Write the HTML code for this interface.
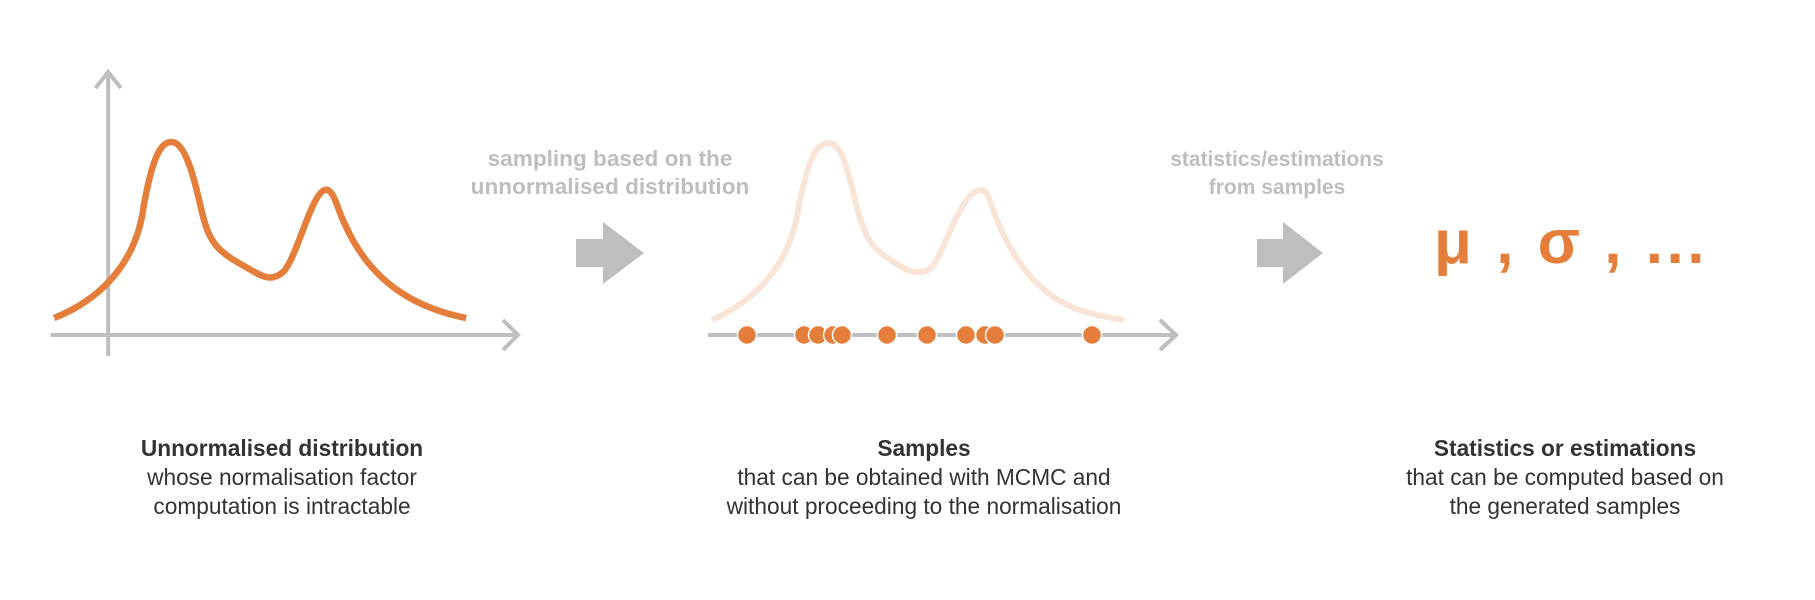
<!DOCTYPE html>
<html><head><meta charset="utf-8"><style>
html,body{margin:0;padding:0;background:#fff;}
svg{display:block;}
text{font-family:"Liberation Sans",sans-serif;}
</style></head><body>
<svg width="1815" height="600" viewBox="0 0 1815 600" xmlns="http://www.w3.org/2000/svg">
<!-- left graph -->
<g transform="matrix(1.151 0 0 1 0 0)">
<g stroke="#bcbec0" fill="none">
<line x1="94" y1="72" x2="94" y2="356" vector-effect="non-scaling-stroke" stroke-width="4"/>
<polyline points="83,88 94,72 105,88" vector-effect="non-scaling-stroke" stroke-width="4"/>
<line x1="44" y1="335" x2="450" y2="335" vector-effect="non-scaling-stroke" stroke-width="4"/>
<polyline points="437,320 450,335 437,350" vector-effect="non-scaling-stroke" stroke-width="4"/>
</g>
<path d="M47,318 C80,303 118,270 125,205 C133,155 140,142 149,142 C162,142 170,185 175,210 C182,245 190,252 215,268 C228,277 236,282 246,272 C258,258 270,195 282,190 C290,187 293,210 300,225 C325,290 370,310 405,318" fill="none" stroke="#e57e3a" stroke-width="6.5" vector-effect="non-scaling-stroke"/>
</g>
<!-- arrow 1 -->
<text x="610" y="166" text-anchor="middle" font-size="22.6" font-weight="bold" fill="#bcbec0">sampling based on the</text>
<text x="610" y="194" text-anchor="middle" font-size="22.6" font-weight="bold" fill="#bcbec0">unnormalised distribution</text>
<polygon points="576,239 603,239 603,222 644,253 603,284 603,267 576,267" fill="#bcbec0"/>
<!-- middle -->
<path d="M712,320 C750,303 790,270 799,205 C808,160 816,143 829,143 C842,143 849,175 855,200 C862,228 868,245 885,256 C905,270 915,276 928,270 C943,262 958,192 981,190 C988,190 991,205 995,215 C1030,305 1080,313 1124,320" fill="none" stroke="#f8e5d8" stroke-width="6"/>
<g stroke="#bcbec0" stroke-width="4" fill="none">
<line x1="708" y1="335" x2="1175" y2="335"/>
<polyline points="1160,320 1176,335 1160,350"/>
</g>
<g fill="#e57e3a" stroke="#fff" stroke-width="1.5">
<circle cx="747" cy="335" r="9.5"/>
<circle cx="804" cy="335" r="9.5"/>
<circle cx="818" cy="335" r="9.5"/>
<circle cx="833" cy="335" r="9.5"/>
<circle cx="842" cy="335" r="9.5"/>
<circle cx="887" cy="335" r="9.5"/>
<circle cx="927" cy="335" r="9.5"/>
<circle cx="966" cy="335" r="9.5"/>
<circle cx="985" cy="335" r="9.5"/>
<circle cx="995" cy="335" r="9.5"/>
<circle cx="1092" cy="335" r="9.5"/>
</g>
<!-- arrow 2 -->
<text x="1277" y="166" text-anchor="middle" font-size="21" font-weight="bold" fill="#bcbec0">statistics/estimations</text>
<text x="1277" y="194" text-anchor="middle" font-size="21" font-weight="bold" fill="#bcbec0">from samples</text>
<polygon points="1257,239 1283,239 1283,222 1323,253 1283,284 1283,267 1257,267" fill="#bcbec0"/>
<text x="1571" y="263" text-anchor="middle" font-size="62" letter-spacing="3.5" font-weight="bold" fill="#e57e3a">μ , σ , ...</text>
<!-- bottom labels -->
<g font-size="22.7" fill="#333" text-anchor="middle">
<text x="282" y="456" font-weight="bold">Unnormalised distribution</text>
<text x="282" y="485">whose normalisation factor</text>
<text x="282" y="514">computation is intractable</text>
<text x="924" y="456" font-weight="bold">Samples</text>
<text x="924" y="485">that can be obtained with MCMC and</text>
<text x="924" y="514">without proceeding to the normalisation</text>
<text x="1565" y="456" font-weight="bold">Statistics or estimations</text>
<text x="1565" y="485">that can be computed based on</text>
<text x="1565" y="514">the generated samples</text>
</g>
</svg>
</body></html>
